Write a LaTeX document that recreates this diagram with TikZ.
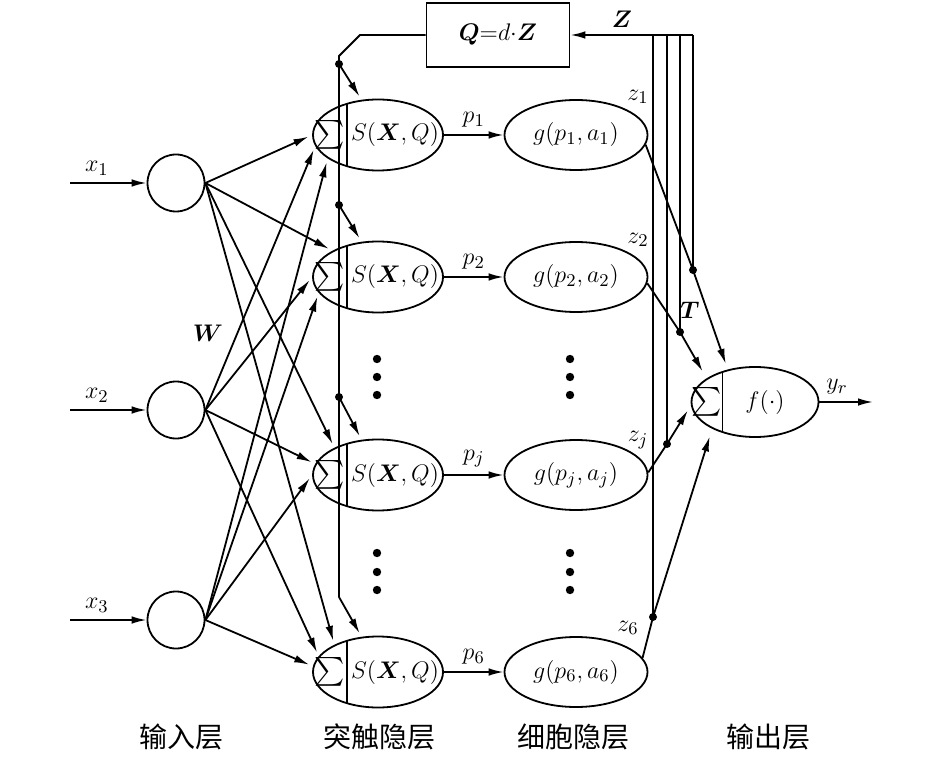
\documentclass[tikz,border=0pt]{standalone}
\usepackage{exscale}
\usepackage{fontspec}
\usepackage{bm}
\usetikzlibrary{arrows.meta,shapes.geometric}
\newfontfamily\cjk{Noto Sans CJK SC}
\begin{document}
\begin{tikzpicture}[x=0.5pt, y=-0.5pt, line width=0.9pt, >={Latex[length=7.5pt,width=3.8pt]},
  font=\fontsize{12.4}{15}\selectfont,
  splitat/.style={path picture={\draw[line width=0.9pt] ([xshift=#1]path picture bounding box.north west) -- ([xshift=#1]path picture bounding box.south west);}},
  inp/.style={circle, draw, minimum size=28.5pt, inner sep=0pt},
  syn/.style={ellipse, draw, minimum width=65pt, minimum height=35.5pt, inner sep=0pt, splitat=17pt},
  cell/.style={ellipse, draw, minimum width=71.5pt, minimum height=35pt, inner sep=0pt},
  outp/.style={ellipse, draw, minimum width=63.5pt, minimum height=35pt, inner sep=0pt, splitat=15.5pt},
  sig/.style={font=\fontsize{15.5}{18}\selectfont},
  layer/.style={font=\cjk\fontsize{14}{17}\selectfont}]
  \useasboundingbox (0,0) rectangle (945,758);
  \node[inp] (x1) at (176,183) {};
  \node[inp] (x2) at (176,410) {};
  \node[inp] (x3) at (176,620) {};
  \coordinate (i1) at (70,183);
  \coordinate (i2) at (70,410);
  \coordinate (i3) at (70,620);
  \draw[->] (i1) -- (x1) node[above, pos=0.35] (lx1) {$x_1$};
  \draw[->] (i2) -- (x2) node[above, pos=0.35] (lx2) {$x_2$};
  \draw[->] (i3) -- (x3) node[above, pos=0.35] (lx3) {$x_3$};
  \foreach \n/\y in {1/135, 2/277, j/475, 6/672} {
    \node[syn] (s\n) at (378,\y) {};
    \node[sig] (ss\n) at ([xshift=-24pt]s\n.center) {$\sum$};
    \node (sx\n) at ([xshift=8.5pt]s\n.center) {$S(\bm{X}, Q)$};
    \node[cell] (g\n) at (576,\y) {$g(p_{\n}, a_{\n})$};
    \draw[->] (s\n) -- (g\n) node[above, midway] (lp\n) {$p_{\n}$};
  }
  \foreach \y in {359,377,395,553,572,590} {
    \fill (377,\y) circle[radius=2.1pt];
    \fill (570,\y) circle[radius=2.1pt];
  }
  \foreach \a/\b in {x1/s1.180, x1/s2.150, x1/sj.148, x1/s6.148, x2/s1.190, x2/s2.180,
      x2/sj.170, x2/s6.165, x3/s1.205, x3/s2.195, x3/sj.180, x3/s6.175}
    \draw[->, shorten >=2pt] (\a.east) -- (\b);
  \node (lw) at (208,333) {$\bm{W}$};
  \node[draw, minimum width=71.5pt, minimum height=32pt, inner sep=0pt] (q) at (498,35) {$\bm{Q}{=}d{\cdot}\bm{Z}$};
  \coordinate (b0) at (360,35);
  \coordinate (b1) at (339,56);
  \coordinate (d1) at (339,64);
  \coordinate (d2) at (339,205);
  \coordinate (dj) at (339,397);
  \coordinate (d6) at (339,597);
  \draw[->, shorten >=2pt] (q.west) -- (b0) -- (b1) -- (d6) -- (s6.115);
  \foreach \n in {1,2,j} {
    \fill (d\n) circle[radius=2pt];
    \draw[->, shorten >=2pt] (d\n) -- (s\n.115);
  }
  \node[outp] (f) at (755,402) {};
  \node[sig] (fs) at ([xshift=-24pt]f.center) {$\sum$};
  \node (ff) at ([xshift=5pt]f.center) {$f(\cdot)$};
  \coordinate (y) at (873,402);
  \draw[->] (f) -- (y) node[above, pos=0.33] (ly) {$y_r$};
  \coordinate (zt) at (693,35);
  \coordinate (t1) at (693,270);
  \coordinate (t2) at (680,332);
  \coordinate (tj) at (667,444);
  \coordinate (t6) at (653,617);
  \draw[->] (zt) -- (q.east) node[above, pos=0.58] (lz) {$\bm{Z}$};
  \foreach \n in {1,2,j,6} {
    \draw (t\n |- zt) -- (t\n);
    \fill (t\n) circle[radius=2pt];
  }
  \draw[->, shorten >=3pt] (g1.-8) -- (t1) -- (f.130);
  \draw[->, shorten >=4pt] (g2.-5) -- (t2) -- (f.154);
  \draw[->, shorten >=3pt] (gj.2) -- (tj) -- (f.183);
  \draw[->, shorten >=4pt] (g6.12) -- (t6) -- (f.212);
  \node (lt) at (690,310) {$\bm{T}$};
  \foreach \n/\x/\y in {1/638/97, 2/638/240, j/638/440, 6/628/628}
    \node (lz\n) at (\x,\y) {$z_{\n}$};
  \node[layer] (l1) at (181,737) {输入层};
  \node[layer] (l2) at (379,737) {突触隐层};
  \node[layer] (l3) at (573,737) {细胞隐层};
  \node[layer] (l4) at (768,737) {输出层};
\end{tikzpicture}
\end{document}
